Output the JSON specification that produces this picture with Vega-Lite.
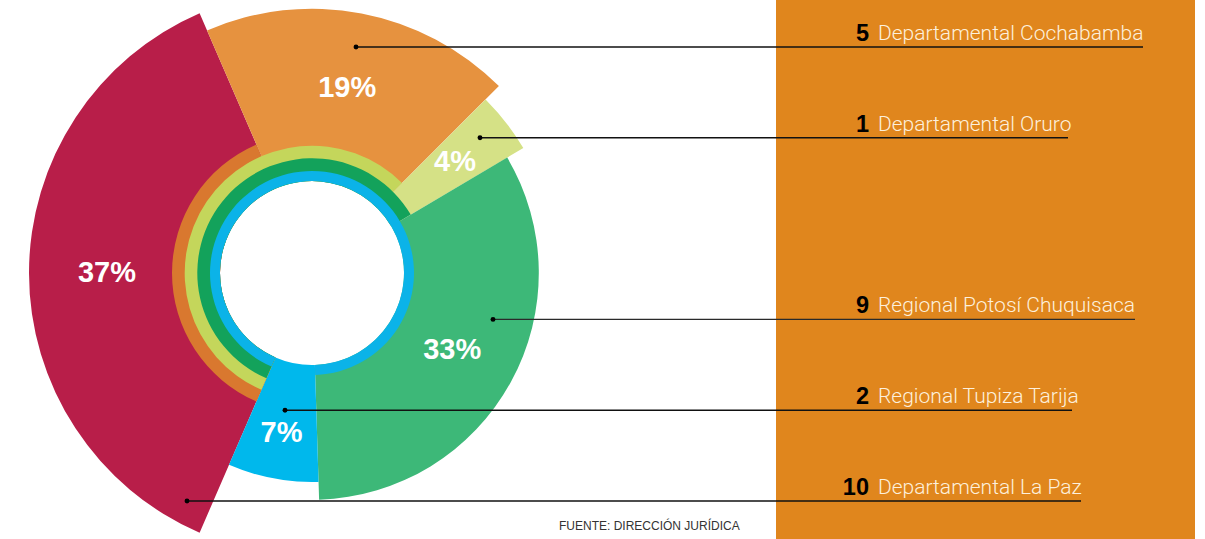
{
  "$schema": "https://vega.github.io/schema/vega-lite/v6.json",
  "width": 624,
  "height": 532,
  "autosize": {"type": "none"},
  "padding": {"left": 0, "top": 7, "right": 581, "bottom": 0},
  "background": "white",
  "config": {"view": {"stroke": null}, "font": "Liberation Sans"},
  "data": {
    "values": [
      {"region": "Departamental La Paz", "n": 10, "share": 0.37, "orden": 1},
      {"region": "Departamental Cochabamba", "n": 5, "share": 0.19, "orden": 2},
      {"region": "Departamental Oruro", "n": 1, "share": 0.04, "orden": 3},
      {"region": "Regional Potosí Chuquisaca", "n": 9, "share": 0.33, "orden": 4},
      {"region": "Regional Tupiza Tarija", "n": 2, "share": 0.07, "orden": 5}
    ]
  },
  "resolve": {"scale": {"radius": "independent", "color": "independent"}},
  "layer": [
    {
      "data": {"values": [{"panel": "leyenda"}]},
      "mark": {"type": "rect", "color": "#E0861D"},
      "encoding": {"x": {"value": 776}, "x2": {"value": 1195}, "y": {"value": -7}, "y2": {"value": 532}}
    },
    {
      "transform": [{"stack": "share", "groupby": [], "sort": [{"field": "orden", "order": "ascending"}], "as": ["t0", "t1"]}],
      "resolve": {"scale": {"radius": "independent", "color": "independent"}},
      "layer": [
        {
          "mark": {"type": "arc", "radius2": 92},
          "encoding": {
            "theta": {"field": "t0", "type": "quantitative", "stack": null, "scale": {"type": "linear", "domain": [0, 1], "range": [3.55, 9.8332], "nice": false, "zero": false}},
            "theta2": {"field": "t1"},
            "radius": {"field": "share", "type": "quantitative", "scale": {"type": "linear", "domain": [0.04, 0.07, 0.19, 0.33, 0.37], "range": [245.5, 209, 264.3, 226.8, 283], "nice": false, "zero": false}},
            "color": {"field": "region", "type": "nominal", "legend": null, "scale": {"domain": ["Departamental La Paz", "Departamental Cochabamba", "Departamental Oruro", "Regional Potosí Chuquisaca", "Regional Tupiza Tarija"], "range": ["#B81E49", "#E6923F", "#D5E186", "#3DB878", "#00B8EC"]}}
          }
        },
        {
          "transform": [{"filter": "datum.orden > 1"}],
          "mark": {"type": "arc", "radius2": 92},
          "encoding": {
            "theta": {"field": "t0", "type": "quantitative", "stack": null, "scale": {"type": "linear", "domain": [0, 1], "range": [3.55, 9.8332], "nice": false, "zero": false}},
            "theta2": {"datum": 0},
            "radius": {"field": "share", "type": "quantitative", "scale": {"type": "linear", "domain": [0.04, 0.07, 0.19, 0.33], "range": [127.3, 102, 140, 114.7], "nice": false, "zero": false}},
            "color": {"field": "region", "type": "nominal", "legend": null, "scale": {"domain": ["Departamental Cochabamba", "Departamental Oruro", "Regional Potosí Chuquisaca", "Regional Tupiza Tarija"], "range": ["#D9782F", "#C4D65B", "#13A25B", "#0BB3E8"]}},
            "order": {"field": "orden", "type": "quantitative", "sort": "ascending"}
          }
        }
      ]
    },
    {
      "mark": {"type": "text", "fontSize": 29, "fontWeight": "bold", "color": "#FFFFFF", "align": "center", "baseline": "middle"},
      "encoding": {
        "theta": {"field": "share", "type": "quantitative", "stack": true, "scale": {"type": "linear", "domain": [0, 1], "range": [3.55, 9.8332], "nice": false, "zero": false}},
        "order": {"field": "orden", "type": "quantitative", "sort": "ascending"},
        "radius": {"field": "share", "type": "quantitative", "scale": {"type": "linear", "domain": [0.04, 0.07, 0.19, 0.33, 0.37], "range": [181, 163, 188, 160, 205], "nice": false, "zero": false}},
        "text": {"field": "share", "type": "quantitative", "format": ".0%"}
      }
    },
    {
      "transform": [{"filter": {"field": "n", "equal": 5}}],
      "encoding": {"y": {"field": "region", "type": "nominal", "axis": null, "scale": {"type": "point", "domain": ["Departamental Cochabamba", "Departamental Oruro", " ", "Regional Potosí Chuquisaca", "Regional Tupiza Tarija", "Departamental La Paz"], "range": [40, 494], "padding": 0}}},
      "layer": [
        {"mark": {"type": "rule", "color": "#111111", "strokeWidth": 1.4}, "encoding": {"x": {"value": 356}, "x2": {"value": 1143}}},
        {"mark": {"type": "point", "filled": true, "color": "#000000", "size": 24, "opacity": 1}, "encoding": {"x": {"value": 356}}}
      ]
    },
    {
      "transform": [{"filter": {"field": "n", "equal": 1}}],
      "encoding": {"y": {"field": "region", "type": "nominal", "axis": null, "scale": {"type": "point", "domain": ["Departamental Cochabamba", "Departamental Oruro", " ", "Regional Potosí Chuquisaca", "Regional Tupiza Tarija", "Departamental La Paz"], "range": [40, 494], "padding": 0}}},
      "layer": [
        {"mark": {"type": "rule", "color": "#111111", "strokeWidth": 1.4}, "encoding": {"x": {"value": 480}, "x2": {"value": 1068}}},
        {"mark": {"type": "point", "filled": true, "color": "#000000", "size": 24, "opacity": 1}, "encoding": {"x": {"value": 480}}}
      ]
    },
    {
      "transform": [{"filter": {"field": "n", "equal": 9}}],
      "encoding": {"y": {"field": "region", "type": "nominal", "axis": null, "scale": {"type": "point", "domain": ["Departamental Cochabamba", "Departamental Oruro", " ", "Regional Potosí Chuquisaca", "Regional Tupiza Tarija", "Departamental La Paz"], "range": [40, 494], "padding": 0}}},
      "layer": [
        {"mark": {"type": "rule", "color": "#2a2a2a", "strokeWidth": 1.4}, "encoding": {"x": {"value": 493}, "x2": {"value": 1135}}},
        {"mark": {"type": "point", "filled": true, "color": "#000000", "size": 24, "opacity": 1}, "encoding": {"x": {"value": 493}}}
      ]
    },
    {
      "transform": [{"filter": {"field": "n", "equal": 2}}],
      "encoding": {"y": {"field": "region", "type": "nominal", "axis": null, "scale": {"type": "point", "domain": ["Departamental Cochabamba", "Departamental Oruro", " ", "Regional Potosí Chuquisaca", "Regional Tupiza Tarija", "Departamental La Paz"], "range": [40, 494], "padding": 0}}},
      "layer": [
        {"mark": {"type": "rule", "color": "#111111", "strokeWidth": 1.4}, "encoding": {"x": {"value": 285}, "x2": {"value": 1072}}},
        {"mark": {"type": "point", "filled": true, "color": "#000000", "size": 24, "opacity": 1}, "encoding": {"x": {"value": 285}}}
      ]
    },
    {
      "transform": [{"filter": {"field": "n", "equal": 10}}],
      "encoding": {"y": {"field": "region", "type": "nominal", "axis": null, "scale": {"type": "point", "domain": ["Departamental Cochabamba", "Departamental Oruro", " ", "Regional Potosí Chuquisaca", "Regional Tupiza Tarija", "Departamental La Paz"], "range": [40, 494], "padding": 0}}},
      "layer": [
        {"mark": {"type": "rule", "color": "#111111", "strokeWidth": 1.4}, "encoding": {"x": {"value": 187}, "x2": {"value": 1081}}},
        {"mark": {"type": "point", "filled": true, "color": "#000000", "size": 24, "opacity": 1}, "encoding": {"x": {"value": 187}}}
      ]
    },
    {
      "mark": {"type": "text", "align": "right", "baseline": "alphabetic", "dy": -6, "fontSize": 23.5, "fontWeight": "bold", "color": "#000000"},
      "encoding": {
        "x": {"value": 869},
        "y": {"field": "region", "type": "nominal", "axis": null, "scale": {"type": "point", "domain": ["Departamental Cochabamba", "Departamental Oruro", " ", "Regional Potosí Chuquisaca", "Regional Tupiza Tarija", "Departamental La Paz"], "range": [40, 494], "padding": 0}},
        "text": {"field": "n", "type": "quantitative"}
      }
    },
    {
      "mark": {"type": "text", "align": "left", "baseline": "alphabetic", "dy": -7, "fontSize": 21, "font": "Roboto", "fontWeight": 300, "color": "#FDF0DC"},
      "encoding": {
        "x": {"value": 878},
        "y": {"field": "region", "type": "nominal", "axis": null, "scale": {"type": "point", "domain": ["Departamental Cochabamba", "Departamental Oruro", " ", "Regional Potosí Chuquisaca", "Regional Tupiza Tarija", "Departamental La Paz"], "range": [40, 494], "padding": 0}},
        "text": {"field": "region", "type": "nominal"}
      }
    },
    {
      "data": {"values": [{"fuente": "FUENTE: DIRECCIÓN JURÍDICA"}]},
      "mark": {"type": "text", "align": "left", "baseline": "alphabetic", "fontSize": 12, "color": "#333333"},
      "encoding": {"x": {"value": 559}, "y": {"value": 523}, "text": {"field": "fuente", "type": "nominal"}}
    }
  ]
}
